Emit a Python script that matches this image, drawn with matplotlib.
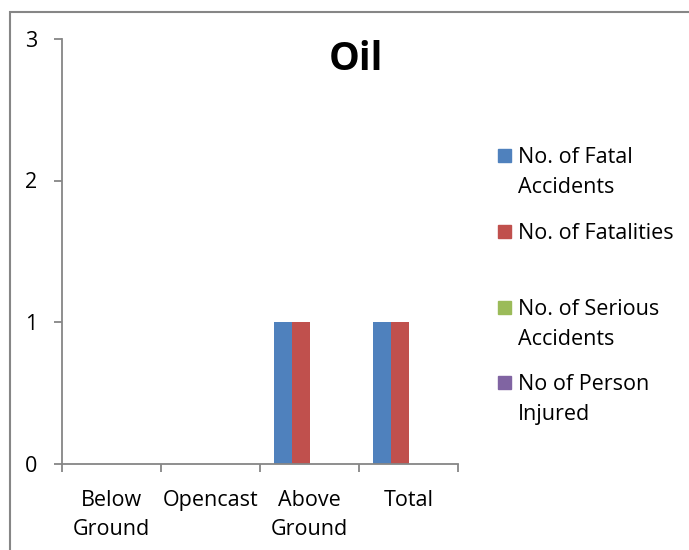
import matplotlib
matplotlib.use("Agg")
import matplotlib.pyplot as plt
import matplotlib.patches as mpatches
import numpy as np

categories = ["Below\nGround", "Opencast", "Above\nGround", "Total"]
series_names = ["No. of Fatal\nAccidents", "No. of Fatalities", "No. of Serious\nAccidents", "No of Person\nInjured"]
fatal_accidents = [0, 0, 1, 1]
fatalities = [0, 0, 1, 1]
serious_accidents = [0, 0, 0, 0]
persons_injured = [0, 0, 0, 0]
colors = ["#4F81BD", "#C0504D", "#9BBB59", "#8064A2"]
title = "Oil"
yticks = [0, 1, 2, 3]

plt.rcParams['font.family'] = ['Open Sans', 'DejaVu Sans']
FS = 15.5
W, H = 689, 550
fig = plt.figure(figsize=(W / 100, H / 100), dpi=100)
ax = fig.add_axes([62 / W, 1 - 463.5 / H, (458 - 62) / W, (463.5 - 39) / H])

values = [fatal_accidents, fatalities, serious_accidents, persons_injured]
x = np.arange(len(categories))
bw = 1 / 5.5
for i, (vals, c) in enumerate(zip(values, colors)):
    ax.bar(x + (i - 1.5) * bw, vals, width=bw, color=c, edgecolor='none')

ax.set_xlim(-0.5, len(categories) - 0.5)
ax.set_ylim(0, 3)
ax.set_yticks(yticks)
ax.set_yticklabels([str(v) for v in yticks], fontsize=FS)
ax.set_xticks(x)
ax.set_xticklabels(categories, fontsize=FS, linespacing=1.5)
ax.set_xticks(np.arange(-0.5, len(categories)), minor=True)
ax.tick_params(axis='x', which='major', length=0, pad=19)
ax.tick_params(axis='x', which='minor', length=6, width=1.3, color='#868686', direction='out')
ax.tick_params(axis='y', length=6, width=1.3, color='#868686', pad=12)
for s in ['top', 'right']:
    ax.spines[s].set_visible(False)
for s in ['left', 'bottom']:
    ax.spines[s].set_color('#868686')
    ax.spines[s].set_linewidth(1.3)

fig.text(356 / W, 1 - 60 / H, title, fontsize=28, fontweight='bold', ha='center', va='center',
         family=['Open Sans', 'DejaVu Sans'])

# legend
first_centers = [155.5, 231.5, 307.5, 382.5]
sq = 13
for name, c, yc in zip(series_names, colors, first_centers):
    fig.patches.append(mpatches.Rectangle((498 / W, 1 - (yc + sq / 2) / H), sq / W, sq / H,
                                          transform=fig.transFigure, color=c))
    for j, line in enumerate(name.split("\n")):
        fig.text(518 / W, 1 - (yc + 7.5 + 30 * j) / H, line, fontsize=FS,
                 ha='left', va='baseline')

# chart border
fig.patches.append(mpatches.Rectangle((10 / W, -0.1), 1.2, 1 - 12 / H + 0.1,
                                      transform=fig.transFigure, fill=False,
                                      edgecolor='#868686', linewidth=1.5))

fig.savefig("out.png", dpi=100)
